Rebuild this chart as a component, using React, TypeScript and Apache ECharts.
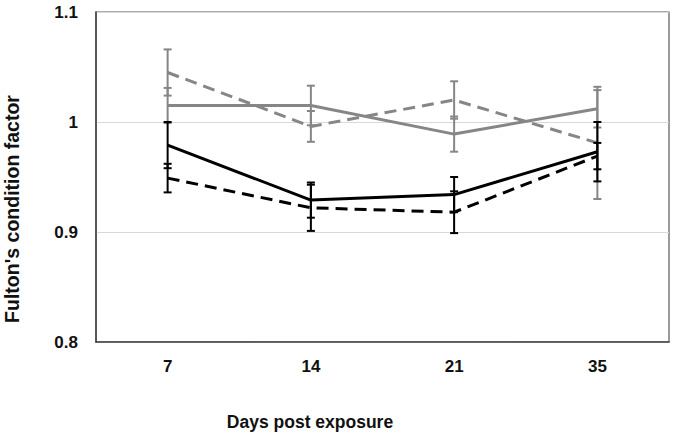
import React, { useEffect, useRef } from "react";
import * as echarts from "echarts";

const categories = ["7", "14", "21", "35"];
const yTicks = [0.8, 0.9, 1.0, 1.1];

const graySolid = [1.015, 1.015, 0.989, 1.012];
const graySolidErr = [0.016, 0.018, 0.016, 0.017];
const grayDashed = [1.045, 0.996, 1.02, 0.981];
const grayDashedErr = [0.021, 0.014, 0.017, 0.051];
const blackSolid = [0.979, 0.929, 0.934, 0.973];
const blackSolidErr = [0.021, 0.016, 0.016, 0.027];
const blackDashed = [0.949, 0.922, 0.918, 0.969];
const blackDashedErr = [0.013, 0.021, 0.019, 0.012];

const xTitle = "Days post exposure";
const yTitle = "Fulton's condition factor";

const GRAY = "#868686";
const BLACK = "#000000";
const FONT = "'Liberation Sans', Arial, sans-serif";

function errData(vals: number[], errs: number[]) {
  return vals.map((v, i) => [i, v - errs[i], v + errs[i]]);
}

function errSeries(vals: number[], errs: number[], color: string, z: number) {
  return {
    type: "custom",
    z,
    silent: true,
    data: errData(vals, errs),
    encode: { x: 0, y: [1, 2] },
    renderItem: (params: any, api: any) => {
      const x = api.value(0);
      const lo = api.coord([x, api.value(1)]);
      const hi = api.coord([x, api.value(2)]);
      const hw = 4;
      const style = { stroke: color, lineWidth: 2 };
      return {
        type: "group",
        children: [
          { type: "line", shape: { x1: lo[0], y1: lo[1], x2: hi[0], y2: hi[1] }, style },
          { type: "line", shape: { x1: lo[0] - hw, y1: lo[1], x2: lo[0] + hw, y2: lo[1] }, style },
          { type: "line", shape: { x1: hi[0] - hw, y1: hi[1], x2: hi[0] + hw, y2: hi[1] }, style },
        ],
      };
    },
  };
}

function lineSeries(vals: number[], color: string, dashed: boolean, z: number) {
  return {
    type: "line",
    z,
    data: vals,
    showSymbol: false,
    symbol: "none",
    silent: true,
    lineStyle: { color, width: 3, type: dashed ? [12, 7] : "solid" },
  };
}

export default function App() {
  const ref = useRef<HTMLDivElement>(null);
  useEffect(() => {
    if (!ref.current) return;
    const chart = echarts.init(ref.current, undefined, { renderer: "svg" });
    chart.setOption({
      animation: false,
      backgroundColor: "#ffffff",
      grid: {
        left: 96,
        right: 6,
        top: 12,
        bottom: 93,
        show: true,
        borderColor: "#595959",
        borderWidth: 1.2,
      },
      xAxis: {
        type: "category",
        data: categories,
        boundaryGap: true,
        axisLine: { show: true, lineStyle: { color: "#404040", width: 1.5 } },
        axisTick: { show: false },
        axisLabel: {
          color: "#111",
          fontWeight: "bold",
          fontSize: 17,
          fontFamily: FONT,
          margin: 16,
        },
        splitLine: { show: false },
      },
      yAxis: {
        type: "value",
        min: yTicks[0],
        max: yTicks[yTicks.length - 1],
        interval: 0.1,
        axisLine: { show: true, lineStyle: { color: "#404040", width: 1.5 } },
        axisTick: { show: false },
        axisLabel: {
          color: "#111",
          fontWeight: "bold",
          fontSize: 17,
          fontFamily: FONT,
          margin: 18,
          formatter: (v: number) => String(Math.round(v * 10) / 10),
        },
        splitLine: { show: true, lineStyle: { color: "#d9d9d9", width: 1 } },
      },
      graphic: [
        {
          type: "text",
          x: 310,
          y: 422,
          style: {
            text: xTitle,
            fill: "#111",
            font: `bold 17.5px ${FONT}`,
            textAlign: "center",
            textVerticalAlign: "middle",
          },
        },
        {
          type: "text",
          x: 12,
          y: 209,
          rotation: Math.PI / 2,
          style: {
            text: yTitle,
            fill: "#111",
            font: `bold 19.5px ${FONT}`,
            textAlign: "center",
            textVerticalAlign: "middle",
          },
        },
      ],
      series: [
        lineSeries(graySolid, GRAY, false, 2),
        lineSeries(grayDashed, GRAY, true, 2),
        errSeries(graySolid, graySolidErr, GRAY, 3),
        errSeries(grayDashed, grayDashedErr, GRAY, 3),
        lineSeries(blackSolid, BLACK, false, 4),
        lineSeries(blackDashed, BLACK, true, 4),
        errSeries(blackSolid, blackSolidErr, BLACK, 5),
        errSeries(blackDashed, blackDashedErr, BLACK, 5),
      ],
    });
    return () => chart.dispose();
  }, []);
  return (
    <div
      ref={ref}
      style={{ position: "fixed", left: 0, top: 0, width: 675, height: 435 }}
    />
  );
}
